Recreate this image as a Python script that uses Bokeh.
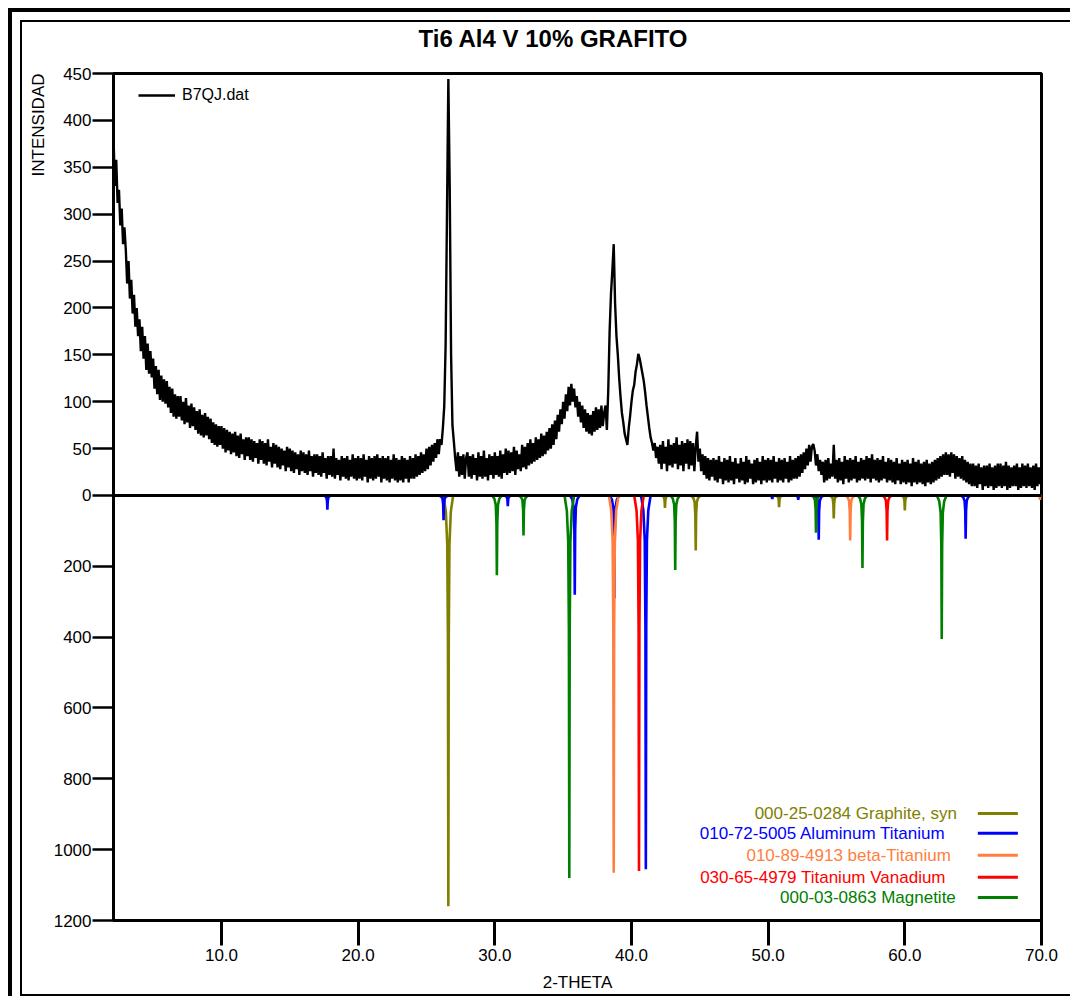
import numpy as np
from bokeh.plotting import figure
from bokeh.models import (Range1d, FixedTicker, PrintfTickFormatter, CustomJSTickFormatter,
                          Span, Label, Legend, LegendItem, Title)
from bokeh.layouts import column
from bokeh.embed import file_html
from bokeh.resources import INLINE

# ---------------------------------------------------------------- data
TITLE = "Ti6 Al4 V 10% GRAFITO"
X_LABEL = "2-THETA"
Y_LABEL = "INTENSIDAD"
SCAN_NAME = "B7QJ.dat"

two_theta_start = 2.1
two_theta_step = 0.1
intensity = [
    383, 330, 358, 312, 326, 288, 306, 268, 286,            # 2.1 - 2.9
    262, 226, 250, 210, 230, 194, 214, 180, 200, 170,       # 3
    188, 154, 180, 146, 170, 134, 162, 130, 154, 126,       # 4
    146, 114, 138, 108, 134, 102, 128, 100, 124, 98,        # 5
    122, 94, 116, 88, 114, 84, 108, 82, 106, 84,            # 6
    106, 80, 100, 76, 104, 78, 96, 72, 98, 74,              # 7
    94, 70, 90, 66, 92, 64, 86, 62, 88, 64,                 # 8
    84, 60, 82, 56, 78, 54, 76, 52, 74, 54,                 # 9
    74, 50, 72, 46, 70, 48, 68, 44, 66, 46,                 # 10
    68, 42, 64, 40, 66, 44, 60, 38, 62, 42,                 # 11
    62, 38, 60, 36, 58, 40, 56, 34, 60, 38,                 # 12
    58, 34, 56, 32, 60, 36, 52, 30, 56, 34,                 # 13
    54, 30, 52, 28, 50, 32, 48, 26, 52, 30,                 # 14
    50, 26, 48, 24, 46, 28, 44, 22, 48, 26,                 # 15
    46, 24, 44, 22, 48, 26, 42, 20, 44, 24,                 # 16
    44, 22, 42, 20, 46, 24, 40, 18, 42, 22,                 # 17
    42, 20, 50, 18, 40, 22, 38, 16, 42, 20,                 # 18
    40, 18, 42, 16, 38, 20, 44, 18, 40, 16,                 # 19
    42, 18, 40, 16, 44, 20, 38, 14, 42, 18,                 # 20
    40, 16, 42, 18, 44, 20, 40, 14, 42, 18,                 # 21
    40, 16, 42, 14, 38, 18, 44, 16, 40, 14,                 # 22
    38, 16, 42, 14, 40, 18, 38, 14, 42, 18,                 # 23
    40, 18, 44, 20, 42, 22, 46, 24, 44, 26,                 # 24
    50, 28, 52, 32, 54, 36, 56, 40, 60, 44,                 # 25
    60, 54, 72, 95, 160, 300, 444, 330, 150, 75,            # 26
    58, 40, 26, 46, 20, 42, 22, 44, 18, 40,                 # 27
    46, 20, 42, 18, 44, 22, 40, 16, 46, 20,                 # 28
    42, 18, 48, 20, 40, 16, 44, 22, 42, 18,                 # 29
    46, 22, 42, 20, 48, 18, 44, 24, 50, 22,                 # 30
    48, 24, 46, 26, 52, 22, 48, 28, 44, 26,                 # 31
    54, 30, 52, 28, 56, 32, 60, 34, 56, 36,                 # 32
    62, 38, 60, 40, 66, 42, 64, 44, 68, 48,                 # 33
    72, 50, 76, 54, 80, 60, 86, 68, 92, 76,                 # 34
    100, 82, 108, 90, 116, 96, 119, 100, 114, 94,           # 35
    106, 84, 100, 78, 96, 72, 92, 68, 88, 66,               # 36
    86, 64, 90, 68, 94, 70, 92, 72, 96, 74,                 # 37
    88, 96, 70, 112, 175, 215, 240, 268, 205, 170,          # 38
    150, 125, 105, 88, 78, 66, 60, 54, 72, 85,              # 39
    100, 112, 118, 132, 140, 151, 146, 138, 130, 122,       # 40
    110, 96, 84, 72, 62, 56, 48, 56, 40, 52,                # 41
    34, 54, 28, 58, 34, 52, 26, 60, 32, 54,                 # 42
    30, 56, 34, 62, 28, 54, 32, 58, 26, 56,                 # 43
    34, 60, 28, 58, 32, 56, 26, 52, 68, 36,                 # 44
    50, 26, 44, 22, 42, 18, 40, 16, 38, 20,                 # 45
    40, 16, 38, 14, 42, 18, 36, 12, 40, 16,                 # 46
    38, 14, 42, 16, 36, 12, 40, 18, 34, 14,                 # 47
    40, 16, 36, 12, 42, 14, 38, 18, 34, 12,                 # 48
    38, 14, 40, 16, 36, 12, 42, 16, 38, 14,                 # 49
    40, 16, 38, 14, 42, 18, 36, 14, 40, 16,                 # 50
    38, 14, 40, 18, 36, 14, 42, 16, 38, 18,                 # 51
    40, 18, 42, 20, 44, 24, 46, 28, 50, 32,                 # 52
    54, 36, 52, 55, 48, 32, 44, 26, 38, 22,                 # 53
    36, 14, 38, 16, 40, 18, 34, 20, 54, 18,                 # 54
    38, 14, 40, 16, 36, 12, 42, 18, 38, 14,                 # 55
    40, 16, 38, 18, 42, 14, 36, 16, 40, 18,                 # 56
    38, 16, 42, 18, 40, 14, 44, 18, 38, 16,                 # 57
    40, 14, 38, 16, 42, 18, 36, 14, 40, 16,                 # 58
    38, 14, 36, 12, 40, 16, 34, 12, 38, 14,                 # 59
    36, 12, 38, 14, 34, 10, 40, 14, 36, 12,                 # 60
    38, 14, 34, 12, 36, 10, 38, 14, 34, 12,                 # 61
    36, 14, 38, 16, 40, 18, 42, 20, 44, 22,                 # 62
    46, 22, 44, 20, 46, 24, 44, 18, 42, 20,                 # 63
    40, 18, 42, 16, 38, 14, 36, 12, 34, 10,                 # 64
    34, 10, 32, 8, 34, 12, 30, 6, 32, 10,                   # 65
    32, 8, 34, 10, 30, 6, 32, 8, 34, 10,                    # 66
    34, 8, 32, 10, 36, 6, 32, 8, 30, 10,                    # 67
    32, 10, 34, 6, 30, 8, 34, 10, 32, 8,                    # 68
    34, 10, 30, 8, 32, 6, 34, 10, 30, 12,                   # 69
    28,                                                     # 70.0
]

x_ticks = [10, 20, 30, 40, 50, 60, 70]
top_ticks = [50, 100, 150, 200, 250, 300, 350, 400, 450]
ref_ticks = [0, 200, 400, 600, 800, 1000, 1200]

# reference patterns (peak position in 2-theta, relative intensity)
phase_names = [
    "000-25-0284 Graphite, syn",
    "010-72-5005 Aluminum Titanium",
    "010-89-4913 beta-Titanium",
    "030-65-4979 Titanium Vanadium",
    "000-03-0863 Magnetite",
]
phase_colors = ["#808000", "#0000ff", "#ff7f40", "#ff0000", "#008000"]

graphite_pos = [26.6, 42.45, 44.7, 50.8, 54.8, 60.0]
graphite_int = [1160, 35, 155, 33, 65, 42]
alti_pos = [17.75, 26.25, 30.95, 35.85, 38.75, 41.05, 50.3, 52.2, 53.7, 64.45]
alti_int = [40, 70, 30, 280, 290, 1055, 10, 12, 125, 122]
beta_ti_pos = [38.7, 56.0, 69.9]
beta_ti_int = [1065, 127, 12]
tiv_pos = [40.55, 58.7]
tiv_int = [1060, 127]
magnetite_pos = [30.15, 32.1, 35.45, 43.2, 53.5, 56.9, 62.7]
magnetite_int = [225, 113, 1080, 210, 105, 205, 405]

phase_pos = [graphite_pos, alti_pos, beta_ti_pos, tiv_pos, magnetite_pos]
phase_int = [graphite_int, alti_int, beta_ti_int, tiv_int, magnetite_int]

# ---------------------------------------------------------------- layout / style
FONT = "Liberation Sans"
X_START, X_END = 2.1, 70.0
TOP_HI = 450.0          # upper panel top (intensity units)
TOP_LO = -453.2         # frame bottom expressed in upper-panel units
REF_LO = 1200.0         # lower panel bottom (reference units, drawn downward)
REF_HI = -REF_LO * TOP_HI / (-TOP_LO)   # frame top in reference units (keeps 0 aligned)

# peak drawing profile (shape only)
PROFILE_DX = np.array([-0.35, -0.18, -0.08, -0.03, 0.0, 0.03, 0.08, 0.18, 0.35])
PROFILE_FR = np.array([0.0, 0.04, 0.12, 0.35, 1.0, 0.35, 0.12, 0.04, 0.0])

p = figure(width=1048, height=972,
           x_range=Range1d(X_START, X_END), y_range=Range1d(TOP_LO, TOP_HI),
           output_backend="svg", toolbar_location=None,
           min_border_left=91, min_border_right=29, min_border_top=51, min_border_bottom=74,
           background_fill_color="white", border_fill_color="white",
           outline_line_color="black", outline_line_width=3)
p.extra_y_ranges = {"ref": Range1d(REF_LO, REF_HI)}
p.grid.visible = False

# title (a thin blank spacer panel sits between the title and the frame)
p.title.text = TITLE
p.title.align = "left"
p.title.offset = 305
p.title.standoff = 0
p.title.vertical_align = "bottom"
p.title.text_font = FONT
p.title.text_font_size = "24px"
p.title.text_font_style = "bold"
p.title.text_color = "black"
spacer = Title(text=" ", text_font_size="2px", standoff=18, text_color="white")
p.add_layout(spacer, "above")

# x axis
xa = p.xaxis[0]
xa.ticker = FixedTicker(ticks=x_ticks)
xa.formatter = PrintfTickFormatter(format="%.1f")
xa.major_tick_out = 25
xa.major_tick_in = 0
xa.minor_tick_line_color = None
xa.major_tick_line_width = 3
xa.axis_line_width = 3
xa.major_label_standoff = 3
xa.major_label_text_font = FONT
xa.major_label_text_font_size = "17px"
xa.major_label_text_color = "black"
xa.axis_label = X_LABEL
xa.axis_label_text_font = FONT
xa.axis_label_text_font_size = "17px"
xa.axis_label_text_font_style = "normal"
xa.axis_label_text_color = "black"
xa.axis_label_standoff = 9

# y axis: upper panel ticks + lower (reference) panel ticks on one axis line
k = REF_LO / (-TOP_LO)
ref_tick_pos = [-v / k for v in ref_ticks]
ya = p.yaxis[0]
ya.ticker = FixedTicker(ticks=top_ticks + ref_tick_pos)
ya.formatter = CustomJSTickFormatter(args=dict(k=k), code="""
    if (tick > 0.5) { return tick.toFixed(0); }
    return Math.round(-tick * k).toFixed(0);
""")
ya.major_tick_out = 21
ya.major_tick_in = 0
ya.minor_tick_line_color = None
ya.major_tick_line_width = 2.5
ya.axis_line_width = 3
ya.major_label_standoff = 1
ya.major_label_text_font = FONT
ya.major_label_text_font_size = "17px"
ya.major_label_text_color = "black"

ytitle = Title(text=Y_LABEL, align="right", standoff=6, text_font=FONT,
               text_font_size="17px", text_font_style="normal", text_color="black")
p.add_layout(ytitle, "left")

# measured pattern
two_theta = np.round(two_theta_start + two_theta_step * np.arange(len(intensity)), 2)
trace = p.line(two_theta, intensity, line_color="black", line_width=2.4)

# reference patterns
for pos, ints, col in zip(phase_pos, phase_int, phase_colors):
    xs = [list(x0 + PROFILE_DX) for x0 in pos]
    ys = [list(h * PROFILE_FR) for h in ints]
    p.multi_line(xs, ys, line_color=col, line_width=2.6, y_range_name="ref")

# divider between panels
p.add_layout(Span(location=0, dimension="width", line_color="black", line_width=3))

# scan legend (top-left)
leg = Legend(items=[LegendItem(label=SCAN_NAME, renderers=[trace])],
             location=(25, 815), border_line_alpha=0, background_fill_alpha=0,
             padding=0, margin=0, spacing=0, glyph_width=37, glyph_height=20,
             label_height=20, label_standoff=7,
             label_text_font=FONT, label_text_font_size="16px", label_text_color="black")
p.add_layout(leg)

# reference-pattern legend (bottom-right): text then coloured line
legend_y = [898, 954, 1016, 1078, 1135]
legend_text_right = [63.81, 63.0, 63.37, 63.0, 63.73]
for name, col, yy, xr in zip(phase_names, phase_colors, legend_y, legend_text_right):
    p.add_layout(Label(x=xr, y=yy, y_range_name="ref", text=name,
                       text_align="right", text_baseline="middle",
                       text_font=FONT, text_font_size="17px", text_color=col))
p.segment(x0=[65.34] * len(legend_y), x1=[68.27] * len(legend_y),
          y0=legend_y, y1=legend_y, line_color=phase_colors, line_width=3,
          y_range_name="ref")

inner = column(p, styles={"border-left": "2px solid black", "border-top": "2px solid black",
                          "border-bottom": "2px solid black", "border-right": "none",
                          "box-sizing": "content-box"})
outer = column(inner, styles={"border-left": "4px solid black", "border-top": "4px solid black",
                              "border-right": "none", "border-bottom": "none",
                              "padding-left": "8px", "padding-top": "8px",
                              "margin-left": "8px", "margin-top": "8px",
                              "box-sizing": "content-box"})

open("out.html", "w").write(file_html(outer, INLINE))
